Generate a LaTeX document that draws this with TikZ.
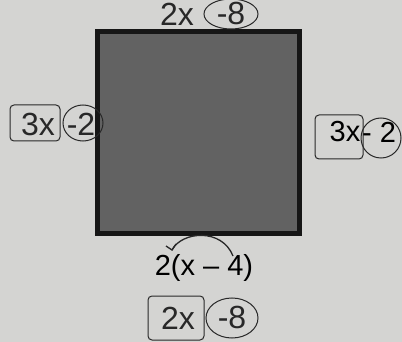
\documentclass[tikz,border=0pt]{standalone}
\usepackage{fontspec}
\setmainfont{Liberation Sans}
\usetikzlibrary{shapes.geometric,arrows.meta}
\definecolor{paper}{RGB}{212,212,210}
\definecolor{sqfill}{RGB}{98,98,98}
\definecolor{sqedge}{RGB}{22,22,22}
\definecolor{ink}{RGB}{40,40,40}
\tikzset{
  sq/.style={draw=sqedge, fill=sqfill, line width=5pt, minimum width=202pt, minimum height=202pt, inner sep=0pt},
  printed/.style={font=\fontsize{29}{31}\selectfont, text=black, inner sep=0pt},
  hand/.style={font=\fontsize{32}{34}\selectfont, text=ink, inner sep=0pt},
  hbox/.style={draw=ink, line width=1pt, rounded corners=4pt, inner sep=0pt},
  hcirc/.style={draw=ink, line width=1pt, ellipse, inner sep=0pt},
}
\begin{document}
\begin{tikzpicture}[x=1pt,y=-1pt]
\fill[paper] (0,0) rectangle (402,342);
\useasboundingbox (0,0) rectangle (402,342);
% square
\node[sq] (square) at (198.5,132.5) {};
% top
\node[hand] (t2x) at (177,14) {2x};
\node[hcirc, minimum width=54pt, minimum height=30pt] (tc) at (231,14) {};
\node[hand] (tm8) at (231,13) {-8};
% left
\node[hbox, minimum width=50pt, minimum height=36pt] (lb) at (35,123) {};
\node[hand] (l3x) at (38,124) {3x};
\node[hcirc, minimum width=40pt, minimum height=36pt] (lc) at (83,123) {};
\node[hand] (lm2) at (81,124) {-2};
% right
\node[hbox, minimum width=48pt, minimum height=44pt] (rb) at (339,137) {};
\node[printed] (r3x) at (345,132) {3x};
\node[hcirc, minimum width=40pt, minimum height=40pt] (rc) at (381,138) {};
\node[printed] (rm2) at (379,132) {- 2};
% bottom
\node[printed] (b2) at (204,268) {2(x – 4)};
\coordinate (arcL) at (172,250);
\coordinate (arcR) at (233,256);
\draw[ink, line width=1.3pt] (arcL) .. controls (182,231) and (222,228) .. (arcR);
\draw[ink, line width=1.3pt] (166,246) -- (arcL) -- (176,244);
\node[hbox, minimum width=56pt, minimum height=44pt] (bb) at (176,318) {};
\node[hand] (b2x) at (178,318) {2x};
\node[hcirc, minimum width=52pt, minimum height=40pt] (bc) at (232,318) {};
\node[hand] (bm8) at (232,317) {-8};
\end{tikzpicture}
\end{document}
